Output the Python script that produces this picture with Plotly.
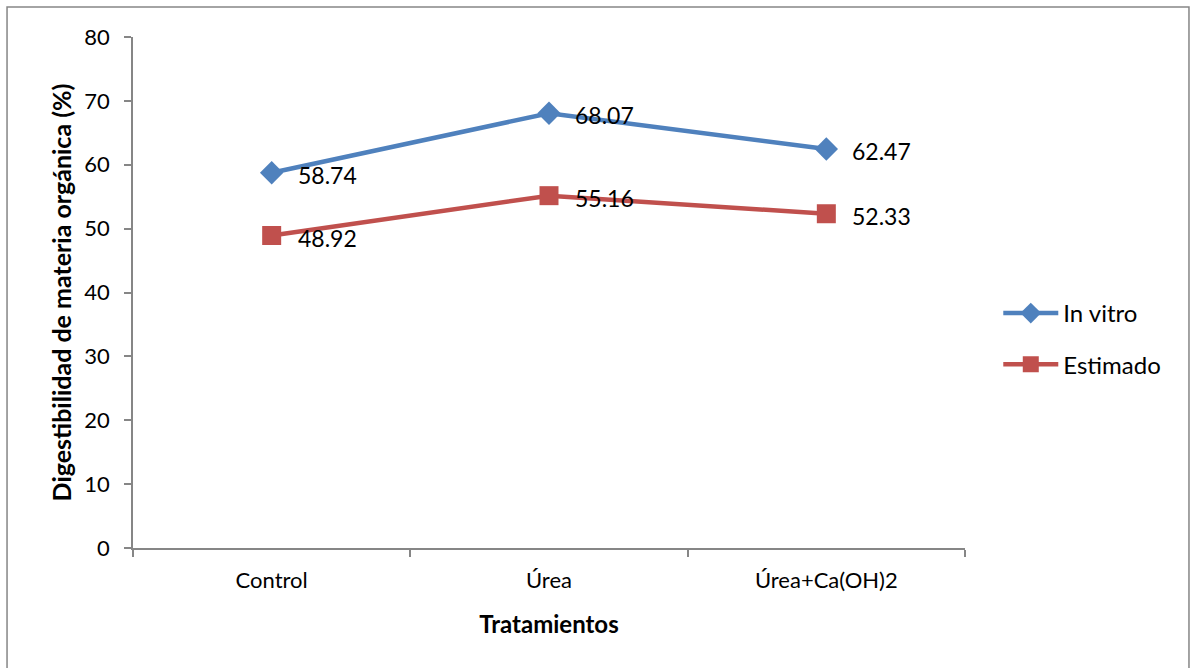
import plotly.graph_objects as go

categories = ["Control", "Úrea", "Úrea+Ca(OH)2"]
in_vitro = [58.74, 68.07, 62.47]
estimado = [48.92, 55.16, 52.33]
y_ticks = [0, 10, 20, 30, 40, 50, 60, 70, 80]

FONT = "Lato, Open Sans, sans-serif"
BLUE = "#4F81BD"
RED = "#C0504D"
AXIS = "#868686"

fig = go.Figure()
fig.add_trace(go.Scatter(
    x=categories, y=in_vitro, name="In vitro", mode="lines+markers",
    legendgroup="a",
    line=dict(color=BLUE, width=4.5),
    marker=dict(symbol="diamond", size=18, color=BLUE),
))
fig.add_trace(go.Scatter(
    x=categories, y=estimado, name="Estimado", mode="lines+markers",
    legendgroup="b",
    line=dict(color=RED, width=4.5),
    marker=dict(symbol="square", size=19, color=RED),
))

annotations = []
for series in (in_vitro, estimado):
    for c, v in zip(categories, series):
        annotations.append(dict(
            x=c, y=v, xref="x", yref="y", text=f"{v:.2f}", showarrow=False,
            xanchor="left", yanchor="middle", xshift=24, yshift=-2,
            font=dict(family=FONT, size=23, color="black"),
        ))

fig.update_layout(
    width=1191, height=668,
    margin=dict(l=133, r=226, t=37, b=120),
    paper_bgcolor="white", plot_bgcolor="white",
    font=dict(family=FONT, size=22, color="black"),
    showlegend=True,
    legend=dict(x=1.04, y=0.409, xanchor="left", yanchor="middle",
                font=dict(family=FONT, size=24, color="black"),
                tracegroupgap=17, itemwidth=55),
    annotations=annotations,
    shapes=[dict(type="rect", xref="paper", yref="paper",
                 x0=-0.1514, x1=1.2692, y0=-0.26, y1=1.0587,
                 line=dict(color=AXIS, width=1.5))],
)

fig.update_xaxes(
    type="category", range=[-0.5, 2.5], tickson="boundaries",
    ticks="outside", ticklen=7, tickcolor=AXIS, tickwidth=1.5,
    showline=True, linecolor=AXIS, linewidth=1.5, showgrid=False, zeroline=False,
    tickfont=dict(family=FONT, size=22), ticklabelstandoff=12,
    title=dict(text="<b>Tratamientos</b>", font=dict(family=FONT, size=24), standoff=24),
)
fig.update_yaxes(
    range=[0, 80], tickvals=y_ticks,
    ticks="outside", ticklen=7, tickcolor=AXIS, tickwidth=1.5,
    showline=True, linecolor=AXIS, linewidth=1.5, showgrid=False, zeroline=False,
    tickfont=dict(family=FONT, size=22), ticklabelstandoff=10,
    title=dict(text="<b>Digestibilidad de materia orgánica (%)</b>", font=dict(family=FONT, size=25), standoff=6),
)

fig.write_html("out.html", config={"displayModeBar": False},
               post_script="document.body.style.margin='0';")
